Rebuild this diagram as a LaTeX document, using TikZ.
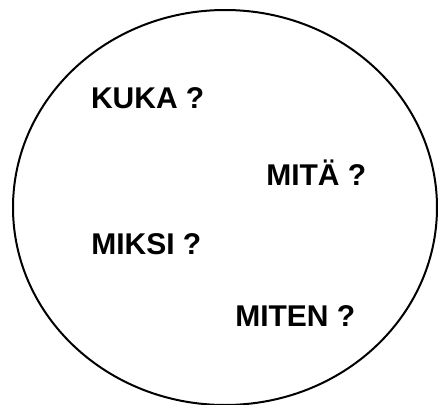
\documentclass[tikz,border=0pt]{standalone}
\usepackage{fontspec}
\setmainfont{Liberation Sans}
\begin{document}
\begin{tikzpicture}[x=1pt,y=-1pt,
  qtext/.style={anchor=base,inner sep=0pt,font=\fontsize{30}{32}\selectfont\bfseries}]
\useasboundingbox (0,0) rectangle (440,405);
\draw[line width=2pt] (225,207.5) ellipse [x radius=212, y radius=197.5];
\node[qtext] (kuka) at (147.7,108.3) {KUKA ?};
\node[qtext] (mita) at (316.3,185) {MITÄ ?};
\node[qtext] (miksi) at (146.3,254) {MIKSI ?};
\node[qtext] (miten) at (295.3,326.7) {MITEN ?};
\end{tikzpicture}
\end{document}
